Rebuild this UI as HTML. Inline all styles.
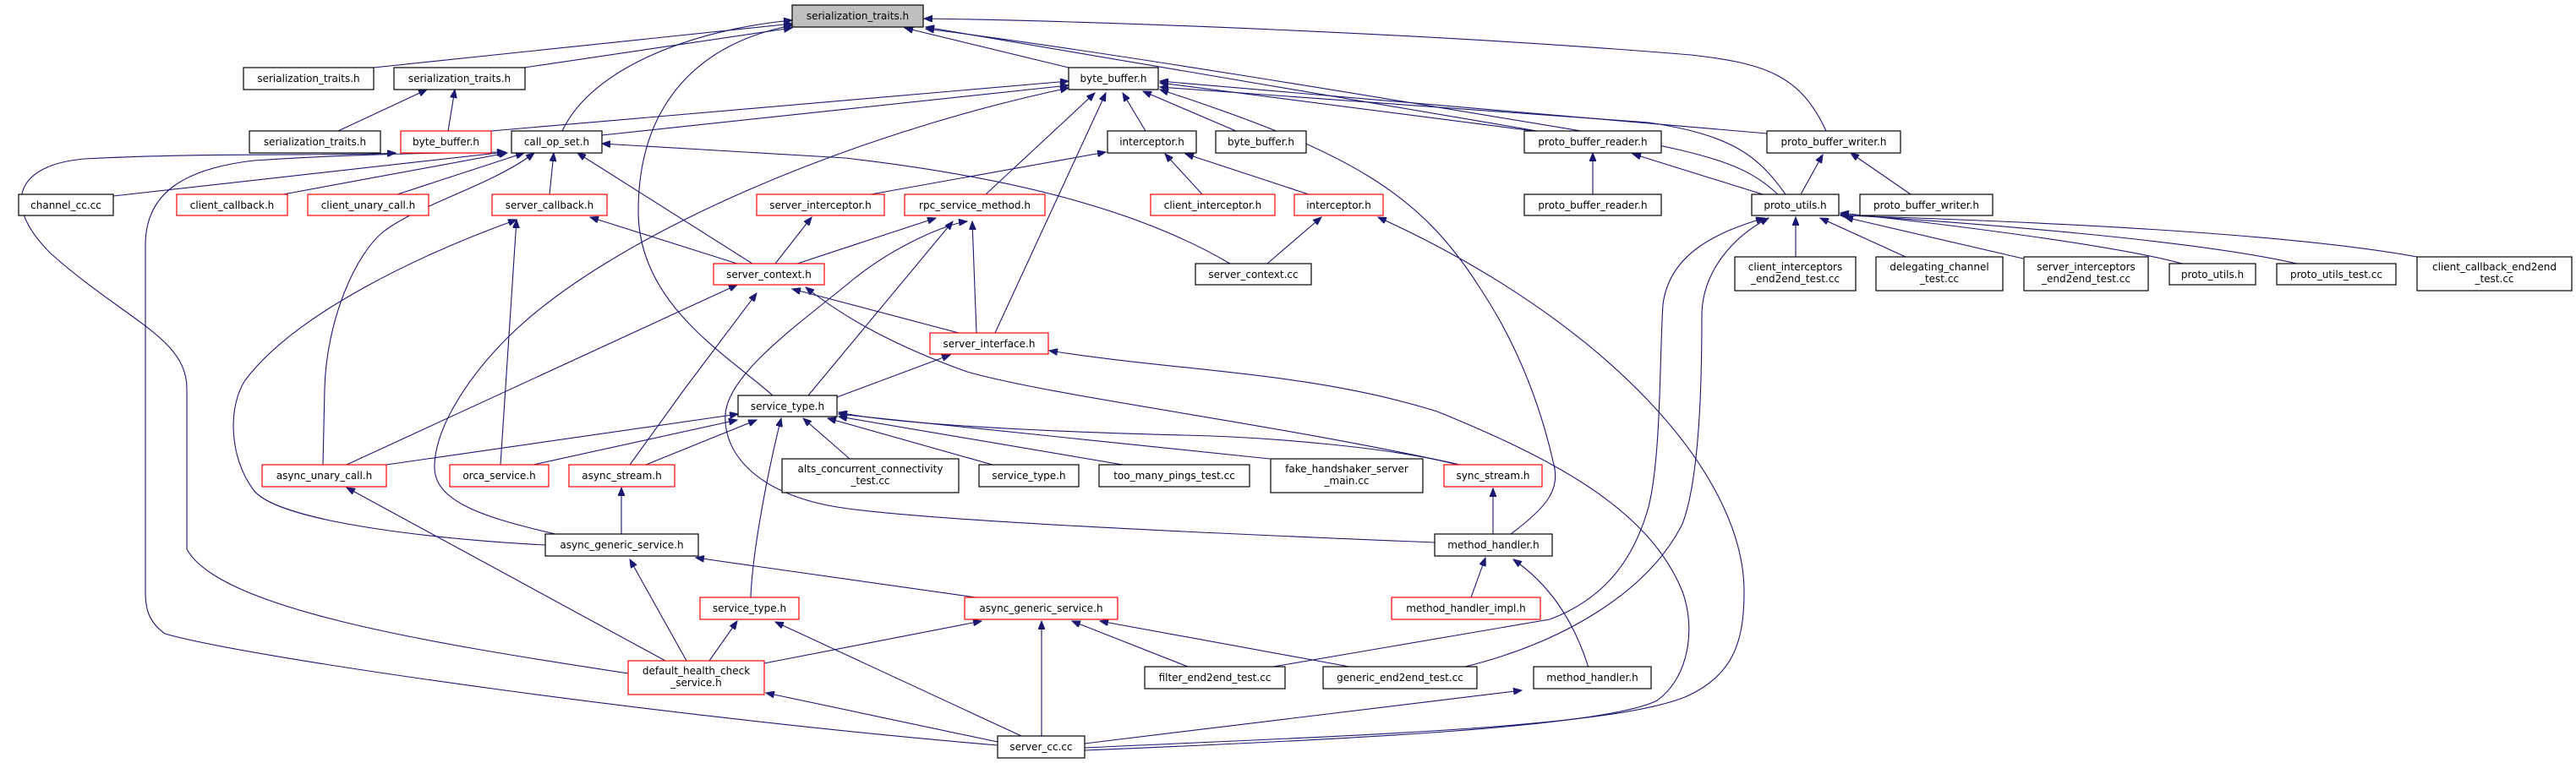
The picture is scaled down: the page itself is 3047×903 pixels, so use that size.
<!DOCTYPE html>
<html><head><meta charset="utf-8"><style>
html,body{margin:0;padding:0;background:#fff;}
svg{display:block;}
text{font-family:"DejaVu Sans","Liberation Sans",sans-serif;font-size:12px;fill:#000;text-anchor:middle;}
.e{fill:none;stroke:#191970;stroke-width:1.1;marker-end:url(#a);}
.n{fill:#fff;stroke:#000;stroke-width:1.2;}
.r{fill:#fff;stroke:#ff0000;stroke-width:1.2;}
.g{fill:#bfbfbf;stroke:#000;stroke-width:1.2;}
</style></head><body>
<svg width="3047" height="903" viewBox="0 0 3047 903" xmlns="http://www.w3.org/2000/svg">
<defs><marker id="a" markerUnits="userSpaceOnUse" markerWidth="11" markerHeight="8" refX="10" refY="4" orient="auto"><path d="M0,0 L10,4 L0,8 z" fill="#191970" stroke="#191970"/></marker></defs>
<g>
<path class="e" d="M442,80 L937,28"/>
<path class="e" d="M620,80 L937,33"/>
<path class="e" d="M665,155 C700,80 820,35 937,24"/>
<path class="e" d="M914,468 C860,420 755,360 755,250 C755,120 830,50 937,30"/>
<path class="e" d="M1264,80 L1070,33"/>
<path class="e" d="M1818,155 L1095,32"/>
<path class="e" d="M2160,155 C2130,90 2090,75 2000,65 C1700,40 1300,25 1093,22"/>
<path class="e" d="M2103,230 C2070,200 2040,185 1900,160 C1600,110 1300,60 1095,34"/>
<path class="e" d="M581,155 L1264,96"/>
<path class="e" d="M712,160 L1264,101"/>
<path class="e" d="M657,632 C560,610 512,590 514,550 C516,500 560,440 600,400 C720,280 1000,160 1264,104"/>
<path class="e" d="M1166,230 L1295,110"/>
<path class="e" d="M1177,394 L1308,110"/>
<path class="e" d="M1355,155 L1328,110"/>
<path class="e" d="M1462,155 L1352,108"/>
<path class="e" d="M1814,155 L1372,98"/>
<path class="e" d="M2090,158 L1372,96"/>
<path class="e" d="M2112,230 C2080,185 2050,160 1950,145 L1372,103"/>
<path class="e" d="M1787,632 C1830,600 1845,580 1838,550 C1820,470 1790,400 1750,340 C1680,230 1600,180 1372,106"/>
<path class="e" d="M743,797 C500,760 260,720 221,650 L221,460 C221,400 150,380 60,300 C0,240 20,195 100,188 C250,180 400,185 468,181"/>
<path class="e" d="M1180,882 C800,850 300,780 195,750 C175,735 172,720 172,700 L172,290 C172,230 215,200 300,190 C420,182 520,181 598,180"/>
<path class="e" d="M134,232 L598,180"/>
<path class="e" d="M335,230 L600,181"/>
<path class="e" d="M470,230 L620,181"/>
<path class="e" d="M382,550 L384,460 C386,380 420,300 455,273 C500,240 580,220 632,181"/>
<path class="e" d="M650,230 L655,181"/>
<path class="e" d="M890,312 L683,181"/>
<path class="e" d="M1455,312 C1350,250 1200,210 1000,187 L712,170"/>
<path class="e" d="M400,155 L505,106"/>
<path class="e" d="M530,155 L538,106"/>
<path class="e" d="M645,645 C540,640 330,620 300,580 C270,540 270,480 290,450 C350,370 500,300 611,260"/>
<path class="e" d="M592,550 L611,260"/>
<path class="e" d="M872,312 L698,257"/>
<path class="e" d="M410,550 L872,337"/>
<path class="e" d="M745,550 L810,460 L895,347"/>
<path class="e" d="M1134,394 L937,342"/>
<path class="e" d="M1727,550 C1500,500 1250,470 1144,440 C1060,410 1000,377 953,340"/>
<path class="e" d="M917,312 L960,257"/>
<path class="e" d="M1030,230 L1308,180"/>
<path class="e" d="M943,312 L1107,258"/>
<path class="e" d="M956,468 L1127,262"/>
<path class="e" d="M1697,642 C1400,630 1080,615 990,600 C900,585 855,540 858,490 C862,440 950,380 1010,330 C1060,290 1120,265 1144,262"/>
<path class="e" d="M1155,394 L1150,262"/>
<path class="e" d="M990,470 L1124,420"/>
<path class="e" d="M1422,230 L1378,182"/>
<path class="e" d="M1548,230 L1402,182"/>
<path class="e" d="M1499,312 L1563,257"/>
<path class="e" d="M1283,885 C1600,870 1900,862 1993,825 C2050,800 2063,760 2063,700 C2063,560 1900,380 1630,257"/>
<path class="e" d="M1283,888 C1600,875 1900,860 1960,829 C2000,800 2005,740 1990,700 C1950,600 1830,540 1700,487 C1550,440 1400,440 1241,415"/>
<path class="e" d="M1884,230 L1884,181"/>
<path class="e" d="M2085,230 L1931,182"/>
<path class="e" d="M2130,230 L2156,183"/>
<path class="e" d="M2260,230 L2189,181"/>
<path class="e" d="M2124,304 L2124,257"/>
<path class="e" d="M2254,304 L2153,258"/>
<path class="e" d="M2393,306 L2182,257"/>
<path class="e" d="M2581,312 C2500,290 2300,265 2177,252"/>
<path class="e" d="M2717,312 C2600,285 2350,265 2177,254"/>
<path class="e" d="M2859,304 C2700,275 2400,262 2177,255"/>
<path class="e" d="M1506,789 L1833,733 C1900,708 1933,660 1950,600 C1965,540 1963,420 1967,360 C1975,300 2030,275 2087,258"/>
<path class="e" d="M1733,789 C1850,760 1950,700 1990,620 C2013,560 2013,420 2013,370 C2015,320 2050,280 2092,258"/>
<path class="e" d="M457,550 L873,490"/>
<path class="e" d="M631,550 L872,497"/>
<path class="e" d="M764,550 L895,497"/>
<path class="e" d="M888,707 C890,650 910,550 924,495"/>
<path class="e" d="M1005,543 L950,495"/>
<path class="e" d="M1174,550 L979,495"/>
<path class="e" d="M1328,550 L992,493"/>
<path class="e" d="M1502,543 L992,490"/>
<path class="e" d="M1724,550 C1650,530 1500,517 1400,515 C1200,510 1050,500 992,488"/>
<path class="e" d="M735,632 L735,577"/>
<path class="e" d="M787,782 L410,577"/>
<path class="e" d="M812,782 L745,662"/>
<path class="e" d="M1154,707 L823,660"/>
<path class="e" d="M839,782 L872,735"/>
<path class="e" d="M1208,871 L917,736"/>
<path class="e" d="M904,785 L1161,735"/>
<path class="e" d="M1232,871 L1232,735"/>
<path class="e" d="M1405,789 L1268,735"/>
<path class="e" d="M1596,789 L1301,735"/>
<path class="e" d="M1180,878 L906,820"/>
<path class="e" d="M1766,632 L1766,578"/>
<path class="e" d="M1740,707 L1757,660"/>
<path class="e" d="M1879,790 C1860,730 1830,690 1790,662"/>
<path class="e" d="M1283,880 L1800,817"/>
</g>
<g>
<rect class="g" x="937" y="6" width="155" height="26"/><text x="1014.5" y="23">serialization_traits.h</text>
<rect class="n" x="288" y="80" width="154" height="26"/><text x="365" y="97">serialization_traits.h</text>
<rect class="n" x="466" y="80" width="155" height="26"/><text x="543.5" y="97">serialization_traits.h</text>
<rect class="n" x="1264" y="80" width="106" height="26"/><text x="1317" y="97">byte_buffer.h</text>
<rect class="n" x="295" y="155" width="155" height="26"/><text x="372.5" y="172">serialization_traits.h</text>
<rect class="r" x="474" y="155" width="107" height="26"/><text x="527.5" y="172">byte_buffer.h</text>
<rect class="n" x="605" y="155" width="107" height="26"/><text x="658.5" y="172">call_op_set.h</text>
<rect class="n" x="1310" y="155" width="105" height="26"/><text x="1362.5" y="172">interceptor.h</text>
<rect class="n" x="1438" y="155" width="107" height="26"/><text x="1491.5" y="172">byte_buffer.h</text>
<rect class="n" x="1803" y="155" width="162" height="26"/><text x="1884" y="172">proto_buffer_reader.h</text>
<rect class="n" x="2090" y="155" width="158" height="26"/><text x="2169" y="172">proto_buffer_writer.h</text>
<rect class="n" x="22" y="230" width="112" height="25"/><text x="78" y="247">channel_cc.cc</text>
<rect class="r" x="209" y="230" width="131" height="25"/><text x="274.5" y="247">client_callback.h</text>
<rect class="r" x="364" y="230" width="143" height="25"/><text x="435.5" y="247">client_unary_call.h</text>
<rect class="r" x="582" y="230" width="136" height="25"/><text x="650" y="247">server_callback.h</text>
<rect class="r" x="895" y="230" width="151" height="25"/><text x="970.5" y="247">server_interceptor.h</text>
<rect class="r" x="1070" y="230" width="166" height="25"/><text x="1153" y="247">rpc_service_method.h</text>
<rect class="r" x="1361" y="230" width="147" height="25"/><text x="1434.5" y="247">client_interceptor.h</text>
<rect class="r" x="1531" y="230" width="105" height="25"/><text x="1583.5" y="247">interceptor.h</text>
<rect class="n" x="1803" y="230" width="162" height="25"/><text x="1884" y="247">proto_buffer_reader.h</text>
<rect class="n" x="2072" y="230" width="103" height="25"/><text x="2123.5" y="247">proto_utils.h</text>
<rect class="n" x="2200" y="230" width="157" height="25"/><text x="2278.5" y="247">proto_buffer_writer.h</text>
<rect class="n" x="2052" y="304" width="143" height="40"/><text x="2123.5" y="320">client_interceptors</text><text x="2123.5" y="334">_end2end_test.cc</text>
<rect class="n" x="2219" y="304" width="150" height="40"/><text x="2294" y="320">delegating_channel</text><text x="2294" y="334">_test.cc</text>
<rect class="n" x="2394" y="304" width="147" height="40"/><text x="2467.5" y="320">server_interceptors</text><text x="2467.5" y="334">_end2end_test.cc</text>
<rect class="n" x="2566" y="312" width="102" height="25"/><text x="2617" y="329">proto_utils.h</text>
<rect class="n" x="2693" y="312" width="141" height="25"/><text x="2763.5" y="329">proto_utils_test.cc</text>
<rect class="n" x="2859" y="304" width="183" height="40"/><text x="2950.5" y="320">client_callback_end2end</text><text x="2950.5" y="334">_test.cc</text>
<rect class="r" x="844" y="312" width="131" height="25"/><text x="909.5" y="329">server_context.h</text>
<rect class="n" x="1414" y="312" width="137" height="25"/><text x="1482.5" y="329">server_context.cc</text>
<rect class="r" x="1100" y="394" width="140" height="25"/><text x="1170" y="411">server_interface.h</text>
<rect class="n" x="873" y="468" width="117" height="25"/><text x="931.5" y="485">service_type.h</text>
<rect class="r" x="310" y="550" width="147" height="26"/><text x="383.5" y="567">async_unary_call.h</text>
<rect class="r" x="532" y="550" width="117" height="26"/><text x="590.5" y="567">orca_service.h</text>
<rect class="r" x="673" y="550" width="125" height="26"/><text x="735.5" y="567">async_stream.h</text>
<rect class="n" x="925" y="543" width="209" height="40"/><text x="1029.5" y="559">alts_concurrent_connectivity</text><text x="1029.5" y="573">_test.cc</text>
<rect class="n" x="1158" y="550" width="118" height="26"/><text x="1217" y="567">service_type.h</text>
<rect class="n" x="1300" y="550" width="178" height="26"/><text x="1389" y="567">too_many_pings_test.cc</text>
<rect class="n" x="1503" y="543" width="180" height="40"/><text x="1593" y="559">fake_handshaker_server</text><text x="1593" y="573">_main.cc</text>
<rect class="r" x="1708" y="550" width="116" height="26"/><text x="1766" y="567">sync_stream.h</text>
<rect class="n" x="645" y="632" width="181" height="26"/><text x="735.5" y="649">async_generic_service.h</text>
<rect class="n" x="1697" y="632" width="139" height="26"/><text x="1766.5" y="649">method_handler.h</text>
<rect class="r" x="828" y="707" width="117" height="26"/><text x="886.5" y="724">service_type.h</text>
<rect class="r" x="1141" y="707" width="181" height="26"/><text x="1231.5" y="724">async_generic_service.h</text>
<rect class="r" x="1646" y="707" width="176" height="26"/><text x="1734" y="724">method_handler_impl.h</text>
<rect class="r" x="743" y="782" width="161" height="40"/><text x="823.5" y="798">default_health_check</text><text x="823.5" y="812">_service.h</text>
<rect class="n" x="1354" y="789" width="166" height="26"/><text x="1437" y="806">filter_end2end_test.cc</text>
<rect class="n" x="1565" y="789" width="182" height="26"/><text x="1656" y="806">generic_end2end_test.cc</text>
<rect class="n" x="1814" y="789" width="139" height="26"/><text x="1883.5" y="806">method_handler.h</text>
<rect class="n" x="1180" y="871" width="103" height="26"/><text x="1231.5" y="888">server_cc.cc</text>
</g>
</svg>
</body></html>
